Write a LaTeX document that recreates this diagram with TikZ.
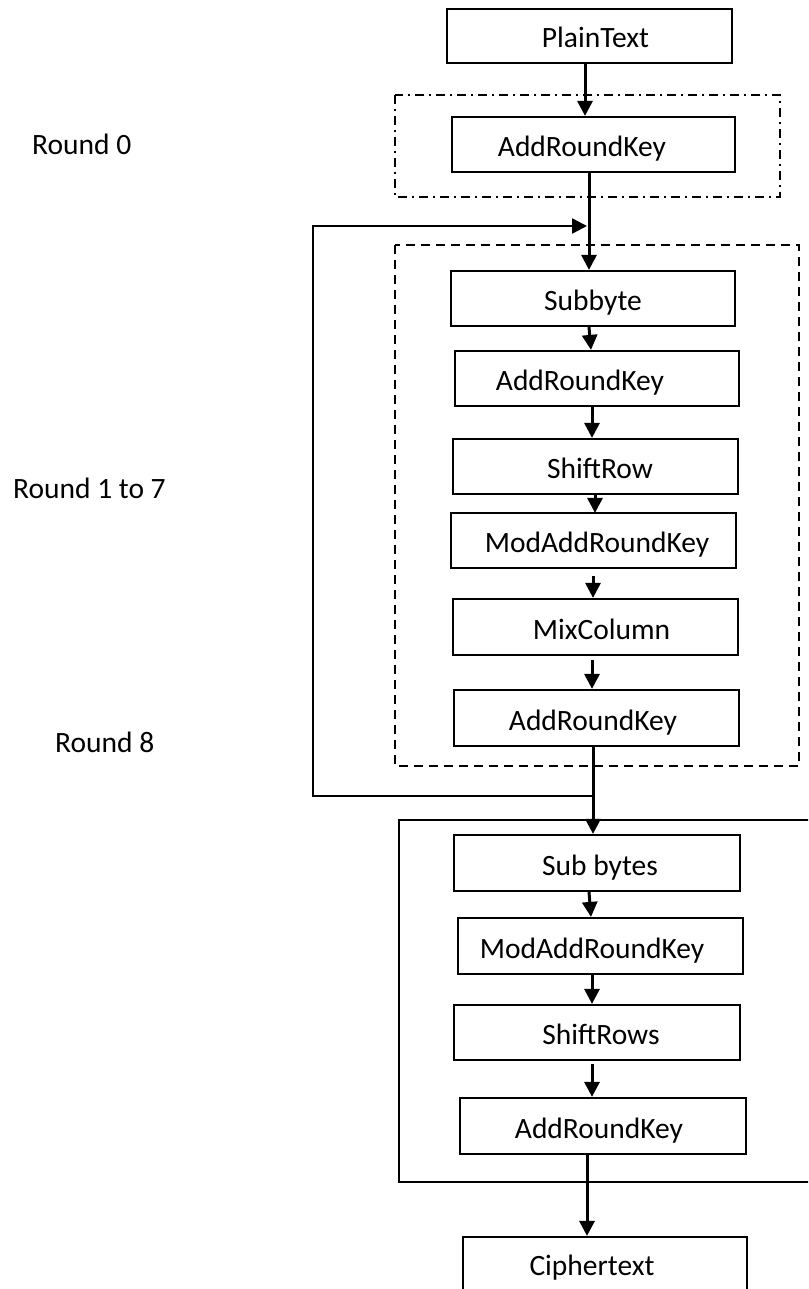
\documentclass[tikz,border=0pt]{standalone}
\usepackage{fontspec}
\setmainfont{Carlito}
\usetikzlibrary{arrows.meta}

\tikzset{
  stage/.style={draw, line width=2.2pt, rectangle, inner sep=0pt},
  stagetext/.style={anchor=base, inner sep=0pt, font=\fontsize{29.5}{35}\selectfont},
  roundtext/.style={anchor=base west, inner sep=0pt, font=\fontsize{29.5}{35}\selectfont},
  flow/.style={line width=3pt, -{Triangle[length=15pt,width=15pt]}},
  feedback/.style={line width=2.5pt, -{Triangle[length=15pt,width=15pt]}},
  roundzero/.style={line width=2.2pt, dash pattern=on 9pt off 5pt on 2pt off 5pt},
  roundmid/.style={line width=2.6pt, dash pattern=on 9pt off 6pt},
  roundlast/.style={line width=2.6pt}
}

\begin{document}
\begin{tikzpicture}[x=1pt,y=-1pt]
\useasboundingbox (0,0) rectangle (808,1289);
\clip (0,0) rectangle (808,1289);

% column positions of the vertical connectors
\coordinate (c585) at (585,0);
\coordinate (c587) at (587,0);
\coordinate (c589) at (589,0);
\coordinate (c591) at (591,0);
\coordinate (c592) at (592,0);
\coordinate (c593) at (593,0);
\coordinate (c595) at (595,0);

% round frames
\draw[roundzero] (395,95) rectangle (780,197);
\draw[roundmid] (395,245) rectangle (799,766);
\draw[roundlast] (399,820) rectangle (830,1182);

% round labels
\node[roundtext] (lr0) at (32,155) {Round 0};
\node[roundtext] (lr17) at (13,498) {Round 1 to 7};
\node[roundtext] (lr8) at (55,752) {Round 8};

% input
\node[stage, minimum width=285pt, minimum height=54pt] (ptx) at (589.5,36) {};
\node[stagetext] (ptxT) at (595.5,48) {PlainText};

% round 0
\node[stage, minimum width=283pt, minimum height=55pt] (ark0) at (593.5,144.5) {};
\node[stagetext] (ark0T) at (582,157) {AddRoundKey};

% rounds 1 to 7
\node[stage, minimum width=284pt, minimum height=55pt] (sb) at (593,298.5) {};
\node[stagetext] (sbT) at (593,310.5) {Subbyte};
\node[stage, minimum width=284pt, minimum height=55pt] (ark1) at (597,378.5) {};
\node[stagetext] (ark1T) at (580,390.5) {AddRoundKey};
\node[stage, minimum width=285pt, minimum height=55pt] (sr) at (595.5,466.5) {};
\node[stagetext] (srT) at (600,478.5) {ShiftRow};
\node[stage, minimum width=285pt, minimum height=55pt] (mark) at (593.5,540.5) {};
\node[stagetext] (markT) at (597,552.5) {ModAddRoundKey};
\node[stage, minimum width=285pt, minimum height=56pt] (mc) at (595.5,627) {};
\node[stagetext] (mcT) at (601.5,639) {MixColumn};
\node[stage, minimum width=285pt, minimum height=56pt] (ark2) at (596.5,718) {};
\node[stagetext] (ark2T) at (593,730) {AddRoundKey};

% round 8
\node[stage, minimum width=286pt, minimum height=56pt] (sb8) at (597,863) {};
\node[stagetext] (sb8T) at (600,875) {Sub bytes};
\node[stage, minimum width=285pt, minimum height=56pt] (mark8) at (600.5,946) {};
\node[stagetext] (mark8T) at (592,958) {ModAddRoundKey};
\node[stage, minimum width=286pt, minimum height=55pt] (sr8) at (597,1032.5) {};
\node[stagetext] (sr8T) at (601,1044.5) {ShiftRows};
\node[stage, minimum width=286pt, minimum height=56pt] (ark3) at (603,1126) {};
\node[stagetext] (ark3T) at (599,1138) {AddRoundKey};

% output
\node[stage, minimum width=284pt, minimum height=80pt] (ct) at (605,1277) {};
\node[stagetext] (ctT) at (592,1275) {Ciphertext};

% main flow
\draw[flow] (ptx.south -| c585) -- (ark0.north -| c585);
\draw[flow] (ark0.south -| c589) -- (sb.north -| c589);
\draw[flow] (sb.south -| c589) -- (ark1.north -| c591);
\draw[flow] (ark1.south -| c592) -- (sr.north -| c592);
\draw[flow] (sr.south -| c595) -- ([yshift=-1pt]mark.north -| c595);
\draw[flow] ([yshift=-7pt]mark.south -| c593) -- (mc.north -| c593);
\draw[flow] ([yshift=-4pt]mc.south -| c592) -- (ark2.north -| c592);
\draw[flow] (ark2.south -| c593) -- (sb8.north -| c593);
\draw[flow] (sb8.south -| c589) -- (mark8.north -| c591);
\draw[flow] (mark8.south -| c592) -- (sr8.north -| c592);
\draw[flow] ([yshift=-3pt]sr8.south -| c592) -- (ark3.north -| c592);
\draw[flow] (ark3.south -| c587) -- (ct.north -| c587);

% loop back from the end of round 7
\coordinate (fbsrc) at (593,796);
\coordinate (fbcorner) at (313,226);
\coordinate (fbtip) at (587,226);
\draw[feedback] (fbsrc) -| (fbcorner) -- (fbtip);
\end{tikzpicture}
\end{document}
